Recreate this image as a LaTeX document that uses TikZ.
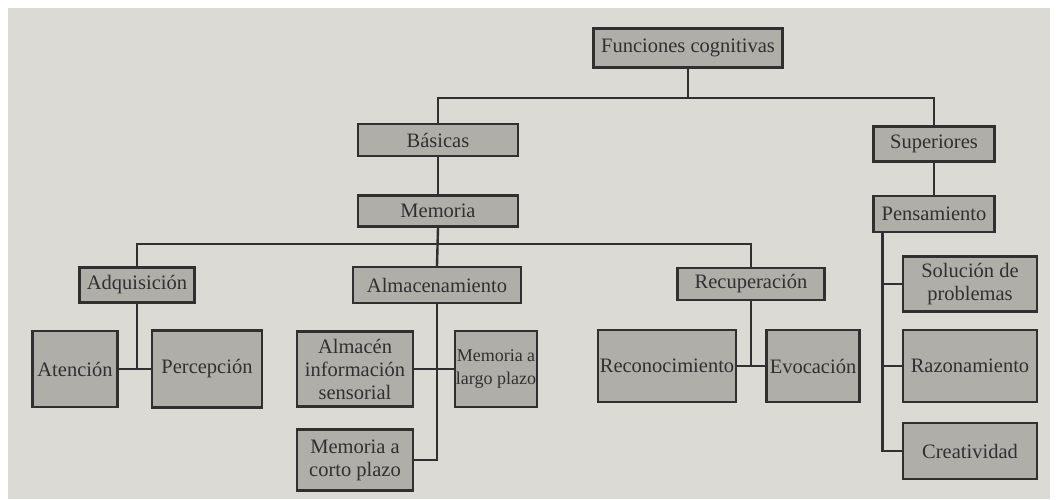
\documentclass[tikz,border=0pt]{standalone}
\usepackage{fontspec}
\setmainfont{Liberation Serif}
\definecolor{pagebg}{HTML}{DCDAD5}
\definecolor{boxfill}{HTML}{B0AEA9}
\definecolor{ink}{HTML}{303030}
\begin{document}
\begin{tikzpicture}[x=1pt,y=-1pt,
  box/.style={draw=ink,fill=boxfill,line width=2.4pt,inner sep=0pt,align=center,
    text=ink,font=\fontsize{20.5}{23}\selectfont},
  link/.style={draw=ink,line width=2.4pt}]
\useasboundingbox (0,0) rectangle (1056,499);
\fill[white] (0,0) rectangle (1056,499);
\fill[pagebg] (8,8) rectangle (1050,499);
% nodes
\node[box,minimum width=189pt,minimum height=39pt] (fc) at (688,48) {Funciones cognitivas};
\node[box,minimum width=160pt,minimum height=32pt] (bas) at (438,140) {Básicas};
\node[box,minimum width=121pt,minimum height=35pt] (sup) at (934,144) {Superiores};
\node[box,minimum width=160pt,minimum height=31pt] (mem) at (438,211) {Memoria};
\node[box,minimum width=121pt,minimum height=36pt] (pen) at (934,214) {Pensamiento};
\node[box,minimum width=115pt,minimum height=35pt] (adq) at (137,285) {Adquisición};
\node[box,minimum width=168pt,minimum height=36pt] (alm) at (437,285) {Almacenamiento};
\node[box,minimum width=147pt,minimum height=32pt] (rec) at (751,284) {Recuperación};
\node[box,minimum width=85pt,minimum height=76pt] (ate) at (75,369) {Atención};
\node[box,minimum width=110pt,minimum height=77pt] (per) at (207,369) {Percepción};
\node[box,minimum width=116pt,minimum height=75pt] (ais) at (355,369) {Almacén\\información\\sensorial};
\node[box,minimum width=82pt,minimum height=76pt,font=\fontsize{18}{23}\selectfont] (mlp) at (496,369) {Memoria a\\largo plazo};
\node[box,minimum width=116pt,minimum height=61pt] (mcp) at (355,460) {Memoria a\\corto plazo};
\node[box,minimum width=138pt,minimum height=72pt] (reco) at (667,366) {Reconocimiento};
\node[box,minimum width=93pt,minimum height=72pt] (evo) at (813,366) {Evocación};
\node[box,minimum width=134pt,minimum height=55pt] (sol) at (970,284) {Solución de\\problemas};
\node[box,minimum width=134pt,minimum height=72pt] (raz) at (970,366) {Razonamiento};
\node[box,minimum width=134pt,minimum height=56pt] (cre) at (970,451) {Creatividad};
% junctions
\coordinate (j1) at (688,98);
\coordinate (j2) at (437,244);
\coordinate (p0) at ([xshift=10pt]pen.south west);
% connectors
\draw[link] (fc.south) -- (j1);
\draw[link] (bas.north) |- (j1);
\draw[link] (sup.north) |- (j1);
\draw[link] (bas.south) -- (mem.north);
\draw[link] (sup.south) -- (pen.north);
\draw[link] (mem.south) -- (alm.north);
\draw[link] (adq.north) |- (j2);
\draw[link] (rec.north) |- (j2);
\draw[link] (adq.south) -- (adq.south |- ate.east);
\draw[link] (ate.east) -- (per.west);
\draw[link] (alm.south) |- (mcp.east);
\draw[link] (ais.east) -- (mlp.west);
\draw[link] (rec.south) -- (rec.south |- reco.east);
\draw[link] (reco.east) -- (evo.west);
\draw[link] (p0) |- (cre.west);
\draw[link] (sol.west) -- (sol.west -| p0);
\draw[link] (raz.west) -- (raz.west -| p0);
\end{tikzpicture}
\end{document}
